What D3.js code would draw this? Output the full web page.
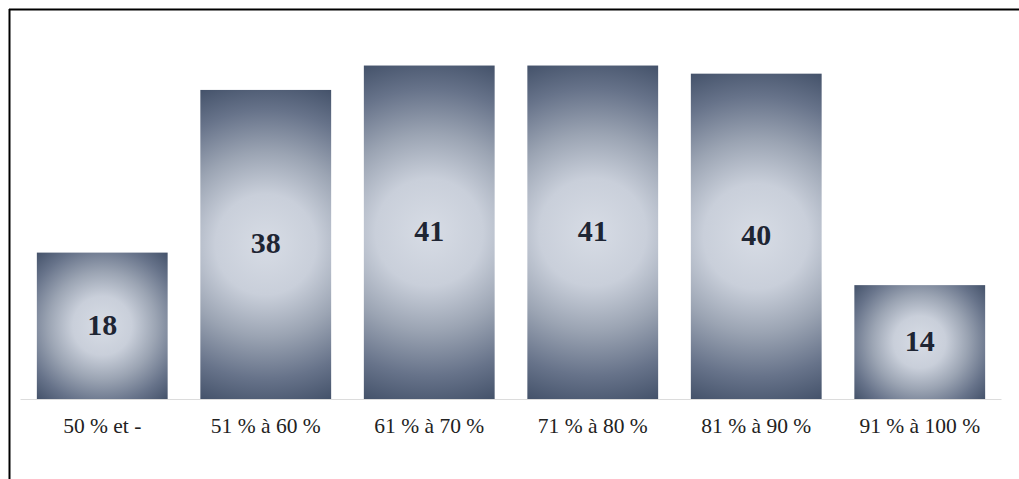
<!DOCTYPE html>
<html>
<head>
<meta charset="utf-8">
<script src="https://cdn.jsdelivr.net/npm/d3@7"></script>
<style>
  body { margin: 0; background: #fff; }
  svg { display: block; }
</style>
</head>
<body>
<svg></svg>
<script>
// categories and values
var categories = ["50 % et -", "51 % à 60 %", "61 % à 70 %", "71 % à 80 %", "81 % à 90 %", "91 % à 100 %"];
var values = [18, 38, 41, 41, 40, 14];

var svgWidth = 1019, svgHeight = 479;

var svg = d3.select("svg")
    .attr("width", svgWidth)
    .attr("height", svgHeight);

// frame (top + left only, as in the cropped original)
svg.append("line").attr("x1", 9).attr("x2", svgWidth).attr("y1", 9.5).attr("y2", 9.5)
    .attr("stroke", "#000").attr("stroke-width", 2);
svg.append("line").attr("x1", 9.5).attr("x2", 9.5).attr("y1", 9).attr("y2", svgHeight)
    .attr("stroke", "#000").attr("stroke-width", 2);

var x = d3.scaleBand()
    .domain(categories)
    .range([20.5, 1001.5])
    .paddingInner(0.2)
    .paddingOuter(0.1);

var y = d3.scaleLinear()
    .domain([0, 45])
    .range([399, 33]);

// one circular gradient per bar, radius = half the bar diagonal
var defs = svg.append("defs");
var stops = [[0, "#d7dce5"], [0.3, "#c9cfda"], [0.55, "#9ba4b3"], [0.8, "#67738a"], [1, "#44526a"]];
var grads = defs.selectAll("radialGradient")
    .data(values)
    .enter()
    .append("radialGradient")
    .attr("id", function(d, i) { return "g" + i; })
    .attr("gradientUnits", "userSpaceOnUse")
    .attr("cx", function(d, i) { return x(categories[i]) + x.bandwidth() / 2; })
    .attr("cy", function(d) { return (y(d) + y(0)) / 2; })
    .attr("r", function(d) {
        var w = x.bandwidth() / 2, h = (y(0) - y(d)) / 2;
        return Math.sqrt(w * w + h * h);
    });
grads.selectAll("stop")
    .data(stops)
    .enter()
    .append("stop")
    .attr("offset", function(s) { return s[0]; })
    .attr("stop-color", function(s) { return s[1]; });

svg.selectAll("rect.bar")
    .data(values)
    .enter()
    .append("rect")
    .attr("class", "bar")
    .attr("x", function(d, i) { return x(categories[i]); })
    .attr("y", function(d) { return y(d); })
    .attr("width", x.bandwidth())
    .attr("height", function(d) { return y(0) - y(d); })
    .attr("fill", function(d, i) { return "url(#g" + i + ")"; });

// baseline axis
var axis = svg.append("g")
    .attr("transform", "translate(0," + y(0) + ")")
    .call(d3.axisBottom(x).tickSize(0).tickPadding(19));
axis.select(".domain").attr("stroke", "#dcdcdc").attr("d", "M20.5,0.5H1001.5");
axis.selectAll("text")
    .attr("font-family", "Liberation Serif, Times New Roman, serif")
    .attr("font-size", 21.5)
    .attr("fill", "#222");

// value labels
svg.selectAll("text.val")
    .data(values)
    .enter()
    .append("text")
    .attr("class", "val")
    .attr("x", function(d, i) { return x(categories[i]) + x.bandwidth() / 2; })
    .attr("y", function(d) { return (y(d) + y(0)) / 2 + 2; })
    .attr("text-anchor", "middle")
    .attr("dominant-baseline", "middle")
    .attr("font-family", "Liberation Serif, Times New Roman, serif")
    .attr("font-weight", "bold")
    .attr("font-size", 30)
    .attr("fill", "#1e2533")
    .text(function(d) { return d; });
</script>
</body>
</html>
